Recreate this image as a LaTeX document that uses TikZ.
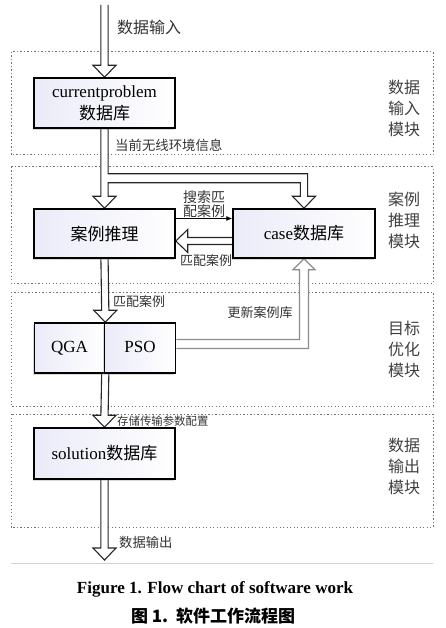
\documentclass[tikz,border=0pt]{standalone}
\usepackage{fontspec}
\setmainfont{Liberation Serif}
\newfontfamily\cjk{Noto Sans CJK SC}
\usetikzlibrary{calc,shadows,arrows.meta}
\pgfdeclarelayer{bg}
\pgfsetlayers{bg,main}
\tikzset{
  box/.style={draw=black, line width=1.5pt, inner sep=0pt, align=center,
    left color={rgb,255:red,234;green,235;blue,248}, right color=white,
    drop shadow={shadow xshift=-1.2pt, shadow yshift=-1.8pt, fill=gray, opacity=.3},
    font=\fontsize{17}{22}\selectfont},
  hollow/.style={draw=black!85, line width=1.1pt, fill=white, line join=miter},
  frame/.style={draw=black!55, line width=1pt, dash pattern=on 1.1pt off 2.4pt},
  lbl/.style={inner sep=0pt, text=black!80},
  modlbl/.style={inner sep=0pt, align=center, text=black!75, font=\cjk\fontsize{16}{21}\selectfont},
}
\newcommand\hdown[2]{%
  \draw[hollow] ($(#1)+(-3.6,0)$) -- ($(#2)+(-3.6,-12)$) -- ($(#2)+(-11.5,-12)$) -- (#2)
    -- ($(#2)+(11.5,-12)$) -- ($(#2)+(3.6,-12)$) -- ($(#1)+(3.6,0)$);}
\begin{document}
\begin{tikzpicture}[x=1pt, y=-1pt]
\useasboundingbox (0,0) rectangle (445,628);

% nodes
\node[box, minimum width=141pt, minimum height=50pt] (cp) at (104.5,103)
  {currentproblem\\{\cjk 数据库}};
\node[box, minimum width=141pt, minimum height=49pt] (cr) at (104.5,233.5)
  {\cjk 案例推理};
\node[box, minimum width=142pt, minimum height=49pt] (cdb) at (304,233.5)
  {case{\cjk 数据库}};
\node[box, minimum width=70pt, minimum height=50pt] (qga) at (69.5,348) {\strut QGA};
\node[box, minimum width=71pt, minimum height=50pt] (pso) at (140,348) {\strut PSO};
\node[box, minimum width=141pt, minimum height=51pt] (sol) at (104.5,453.5)
  {solution{\cjk 数据库}};

\coordinate (in) at (104.5,5);
\coordinate (out) at (104.5,560);

\begin{pgfonlayer}{bg}
% module frames
\draw[frame] (11,52) rectangle (433,155);
\draw[frame] (11,167) rectangle (433,283);
\draw[frame] (11,292) rectangle (433,406);
\draw[frame] (11,414) rectangle (433,527);
\draw[gray!35, line width=0.8pt] (11,563) -- (433,563);

% hollow arrows
\hdown{in}{cp.north}
\hdown{cr.south}{qga.north east}
\hdown{qga.south east}{sol.north}
\hdown{sol.south}{out}

% branched arrow cp -> cr and cdb
\coordinate (g1) at ($(cp.south)+(3.6,54)$);
\coordinate (g2) at ($(cp.south)+(3.6,45)$);
\coordinate (t1) at ($(cdb.north)+(-3.6,0)$);
\coordinate (t2) at ($(cdb.north)+(3.6,0)$);
\draw[hollow] ($(cp.south)+(-3.6,0)$) -- ($(cr.north)+(-3.6,-12)$) -- ($(cr.north)+(-11.5,-12)$)
  -- (cr.north) -- ($(cr.north)+(11.5,-12)$) -- ($(cr.north)+(3.6,-12)$) -- (g1)
  -- (t1 |- g1) -- ($(cdb.north)+(-3.6,-12)$) -- ($(cdb.north)+(-11.5,-12)$) -- (cdb.north)
  -- ($(cdb.north)+(11.5,-12)$) -- ($(cdb.north)+(3.6,-12)$) -- (t2 |- g2) -- (g2)
  -- ($(cp.south)+(3.6,0)$);

% hollow arrow cdb -> cr
\draw[hollow] ($(cdb.west)+(0,4)$) -- ($(cr.east)+(12,4)$) -- ($(cr.east)+(12,-4)$)
  -- ($(cr.east)+(0,7.5)$) -- ($(cr.east)+(12,19)$) -- ($(cr.east)+(12,11)$)
  -- ($(cdb.west)+(0,11)$);

% update arrow pso -> cdb (gray)
\coordinate (p1) at ($(pso.east)+(0,-8.5)$);
\coordinate (p2) at ($(pso.east)+(0,0.5)$);
\coordinate (u1) at ($(cdb.south)+(-4.5,0)$);
\coordinate (u2) at ($(cdb.south)+(4.5,0)$);
\draw[hollow, draw=black!45] (p1) -- (u1 |- p1) -- ($(cdb.south)+(-4.5,11)$) -- ($(cdb.south)+(-11,11)$)
  -- (cdb.south) -- ($(cdb.south)+(11,11)$) -- ($(cdb.south)+(4.5,11)$) -- (u2 |- p2) -- (p2);
\end{pgfonlayer}

% thin arrow
\draw[line width=0.9pt, -{Latex[length=6pt,width=5pt]}] ($(cr.east)+(0,-15)$) -- ($(cdb.west)+(0,-15)$);

% labels
\node[lbl, anchor=west, font=\cjk\fontsize{16}{16}\selectfont] (l1) at (117,27) {数据输入};
\node[lbl, anchor=west, font=\cjk\fontsize{13.4}{14}\selectfont] (l2) at (115,145) {当前无线环境信息};
\node[lbl, align=center, font=\cjk\fontsize{14}{14}\selectfont] (l3) at (204,204) {搜索匹\\配案例};
\node[lbl, font=\cjk\fontsize{13}{13}\selectfont] (l4) at (206,261) {匹配案例};
\node[lbl, anchor=west, font=\cjk\fontsize{13}{13}\selectfont] (l5) at (113,302) {匹配案例};
\node[lbl, font=\cjk\fontsize{13}{13}\selectfont] (l6) at (260,313) {更新案例库};
\node[lbl, anchor=west, font=\cjk\fontsize{11.4}{12}\selectfont] (l7) at (117,421) {存储传输参数配置};
\node[lbl, anchor=west, font=\cjk\fontsize{13.3}{14}\selectfont] (l8) at (119,542) {数据输出};

\node[modlbl] (m1) at (404,108) {数据\\输入\\模块};
\node[modlbl] (m2) at (404,220) {案例\\推理\\模块};
\node[modlbl] (m3) at (404,349) {目标\\优化\\模块};
\node[modlbl] (m4) at (404,466.5) {数据\\输出\\模块};

% caption
\node[inner sep=0pt, font=\bfseries\fontsize{17}{18}\selectfont] (cap1) at (215,589)
  {Figure 1. Flow chart of software work};
\node[inner sep=0pt, font=\cjk\bfseries\fontsize{17}{18}\selectfont] (cap2) at (213,616)
  {图 1.\ \ 软件工作流程图};
\end{tikzpicture}
\end{document}
